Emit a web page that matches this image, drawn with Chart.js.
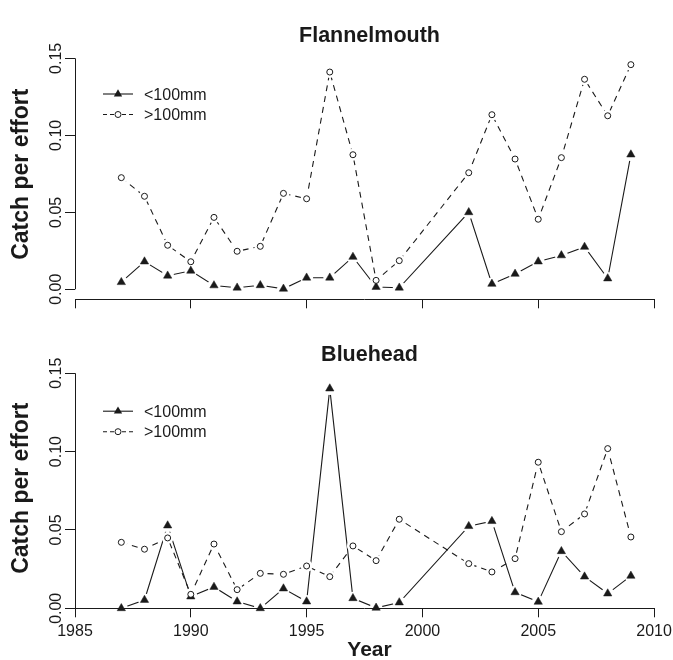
<!DOCTYPE html>
<html>
<head>
<meta charset="utf-8">
<script src="https://cdn.jsdelivr.net/npm/chart.js"></script>
<style>
  html, body { margin: 0; padding: 0; background: #fff; }
  #page { width: 673px; height: 660px; overflow: hidden; position: relative; }
  .panel { position: absolute; left: 0; }
  #top { top: 0; }
  #bottom { top: 320px; }
</style>
</head>
<body>
<div id="page">
  <div class="panel" id="top"><canvas id="flannel" width="680" height="320"></canvas></div>
  <div class="panel" id="bottom"><canvas id="blue" width="680" height="345"></canvas></div>
</div>
<script>
// Survey years (no sampling in 2000 and 2001)
const years = [1987, 1988, 1989, 1990, 1991, 1992, 1993, 1994, 1995, 1996, 1997, 1998, 1999,
               2002, 2003, 2004, 2005, 2006, 2007, 2008, 2009];

const flannelSmall = [0.0046, 0.018, 0.0088, 0.012, 0.0025, 0.001, 0.0026, 0.0003, 0.0075, 0.0075, 0.021,
                      0.0015, 0.001, 0.050, 0.0035, 0.010, 0.018, 0.022, 0.0275, 0.007, 0.0875];
const flannelLarge = [0.0725, 0.0604, 0.0286, 0.0179, 0.0467, 0.0247, 0.0279, 0.0623, 0.0588, 0.1411, 0.0874,
                      0.0058, 0.0186, 0.0757, 0.1134, 0.0846, 0.0455, 0.0855, 0.1364, 0.1127, 0.1459];

const blueSmall = [0, 0.0053, 0.0528, 0.0075, 0.0136, 0.0043, 0, 0.0126, 0.0043, 0.1402, 0.0064,
                   0.0003, 0.0037, 0.0524, 0.0556, 0.0102, 0.0041, 0.0364, 0.0202, 0.0094, 0.0207];
const blueLarge = [0.0421, 0.0377, 0.0449, 0.0089, 0.041, 0.0119, 0.0223, 0.0217, 0.027, 0.0202, 0.0398,
                   0.0304, 0.0568, 0.0285, 0.0232, 0.0317, 0.0932, 0.0489, 0.0602, 0.1019, 0.0455];

const seriesNames = ['<100mm', '>100mm'];
const xTicks = [1985, 1990, 1995, 2000, 2005, 2010];
const xTickLabels = ['1985', '1990', '1995', '2000', '2005', '2010'];
const yTicks = [0, 0.05, 0.10, 0.15];
const yTickLabels = ['0.00', '0.05', '0.10', '0.15'];

const INK = '#1a1a1a';
const FONT = "'Liberation Sans', Arial, Helvetica, sans-serif";
Chart.defaults.font.family = FONT;
Chart.defaults.color = INK;

function pts(vals) {
    return years.map((yr, i) => ({ x: yr, y: vals[i] }));
}

function crisp(p) {
    return Math.round(p - 0.5) + 0.5;
}

// R draws its axis lines only between the outer ticks
const rAxes = {
    id: 'rAxes',
    afterDatasetDraw(chart, args) {
        if (args.index !== 1) return; // after the halo lines, before the markers
        const { ctx, chartArea, scales: { x, y } } = chart;
        const ax = crisp(chartArea.left);
        const by = crisp(chartArea.bottom);
        ctx.save();
        ctx.strokeStyle = INK;
        ctx.lineWidth = 1;
        ctx.beginPath();
        ctx.moveTo(ax, y.getPixelForValue(yTicks[0]));
        ctx.lineTo(ax, y.getPixelForValue(yTicks[yTicks.length - 1]));
        ctx.moveTo(x.getPixelForValue(xTicks[0]), by);
        ctx.lineTo(x.getPixelForValue(xTicks[xTicks.length - 1]), by);
        ctx.stroke();
        ctx.restore();
    }
};

function triangle(ctx, cx, cy, r) {
    const s = Math.sin(Math.PI / 3) * r;
    ctx.beginPath();
    ctx.moveTo(cx, cy - r);
    ctx.lineTo(cx + s, cy + r / 2);
    ctx.lineTo(cx - s, cy + r / 2);
    ctx.closePath();
    ctx.fill();
}

const sampleLegend = {
    id: 'sampleLegend',
    afterDraw(chart, args, opts) {
        const ctx = chart.ctx;
        const x0 = opts.x, x1 = opts.x + 30, xm = opts.x + 15;
        const y1 = opts.y, y2 = opts.y + opts.gap;
        ctx.save();
        ctx.strokeStyle = INK;
        ctx.fillStyle = INK;
        ctx.lineWidth = 1.1;

        ctx.beginPath();
        ctx.moveTo(x0, y1);
        ctx.lineTo(x1, y1);
        ctx.stroke();
        triangle(ctx, xm, y1, 4.8);

        ctx.setLineDash([4, 3]);
        ctx.beginPath();
        ctx.moveTo(x0, y2);
        ctx.lineTo(xm - 4, y2);
        ctx.moveTo(xm + 4, y2);
        ctx.lineTo(x1, y2);
        ctx.stroke();
        ctx.setLineDash([]);
        ctx.beginPath();
        ctx.arc(xm, y2, 3, 0, Math.PI * 2);
        ctx.fillStyle = '#fff';
        ctx.fill();
        ctx.lineWidth = 1;
        ctx.stroke();

        ctx.fillStyle = INK;
        ctx.font = '16px ' + FONT;
        ctx.textBaseline = 'middle';
        ctx.textAlign = 'left';
        ctx.fillText(seriesNames[0], x0 + 41, y1 + 1.3);
        ctx.fillText(seriesNames[1], x0 + 41, y2 + 1.3);
        ctx.restore();
    }
};

function buildDatasets(small, large) {
    return [
        // connecting lines, with white halos to leave R's type="b" gaps
        { label: seriesNames[0], data: pts(small), order: 4, showLine: true, clip: false,
          borderColor: INK, borderWidth: 1.1,
          pointRadius: 6.5, pointBackgroundColor: '#fff', pointBorderColor: '#fff', pointBorderWidth: 0 },
        { label: seriesNames[1], data: pts(large), order: 3, showLine: true, clip: false,
          borderColor: INK, borderWidth: 1.1, borderDash: [6, 5],
          pointRadius: 6, pointBackgroundColor: '#fff', pointBorderColor: '#fff', pointBorderWidth: 0 },
        // markers
        { label: seriesNames[0], data: pts(small), order: 2, showLine: false, clip: false,
          pointStyle: 'triangle', pointRadius: 4.8,
          pointBackgroundColor: INK, pointBorderColor: INK, pointBorderWidth: 0.5 },
        { label: seriesNames[1], data: pts(large), order: 1, showLine: false, clip: false,
          pointStyle: 'circle', pointRadius: 3,
          pointBackgroundColor: '#fff', pointBorderColor: INK, pointBorderWidth: 1 }
    ];
}

function makeChart(id, cfg) {
    return new Chart(document.getElementById(id), {
        type: 'line',
        data: { datasets: buildDatasets(cfg.small, cfg.large) },
        options: {
            responsive: false,
            animation: false,
            devicePixelRatio: 1,
            events: [],
            layout: { padding: { left: 0, right: 16, top: 0, bottom: 0 } },
            plugins: {
                legend: { display: false },
                tooltip: { enabled: false },
                title: {
                    display: true, text: cfg.title, fullSize: false, color: INK,
                    font: { size: 21.5, weight: 'bold', lineHeight: 1.2 },
                    padding: cfg.titlePad
                },
                sampleLegend: { x: 103, y: cfg.legendY, gap: 20.5 }
            },
            scales: {
                x: {
                    type: 'linear', min: 1985, max: 2010.43,
                    afterBuildTicks: s => { s.ticks = xTicks.map(v => ({ value: v })); },
                    afterFit: s => { s.height = cfg.xHeight; },
                    border: { display: false },
                    grid: { drawOnChartArea: false, tickLength: 9, color: INK, lineWidth: 1 },
                    ticks: {
                        display: cfg.showX, autoSkip: false, maxRotation: 0, padding: 4.6,
                        font: { size: 16 }, color: INK,
                        callback: (v, i) => xTickLabels[i]
                    },
                    title: {
                        display: cfg.showX, text: 'Year', color: INK,
                        font: { size: 21, weight: 'bold', lineHeight: 1.2 },
                        padding: { top: 0, bottom: 2.4 }
                    }
                },
                y: {
                    min: cfg.yMin, max: cfg.yMax,
                    afterBuildTicks: s => { s.ticks = yTicks.map(v => ({ value: v })); },
                    afterFit: s => { s.width = 75; },
                    border: { display: false },
                    grid: { drawOnChartArea: false, tickLength: 10, color: INK, lineWidth: 1 },
                    ticks: {
                        autoSkip: false, minRotation: 90, maxRotation: 90,
                        crossAlign: 'center', padding: -7,
                        font: { size: 16 }, color: INK,
                        callback: (v, i) => yTickLabels[i]
                    },
                    title: {
                        display: true, text: 'Catch per effort', color: INK,
                        font: { size: 23, weight: 'bold', lineHeight: 1.2 },
                        padding: { top: 7.4, bottom: 0 }
                    }
                }
            }
        },
        plugins: [rAxes, sampleLegend]
    });
}

makeChart('flannel', {
    title: 'Flannelmouth', small: flannelSmall, large: flannelLarge,
    yMin: -0.0065, yMax: 0.156, xHeight: 20.7, showX: false,
    titlePad: { top: 22.9, bottom: 0.4 }, legendY: 94
});

makeChart('blue', {
    title: 'Bluehead', small: blueSmall, large: blueLarge,
    yMin: 0, yMax: 0.1532, xHeight: 56.7, showX: true,
    titlePad: { top: 22.4, bottom: 0 }, legendY: 91.2
});
</script>
</body>
</html>
